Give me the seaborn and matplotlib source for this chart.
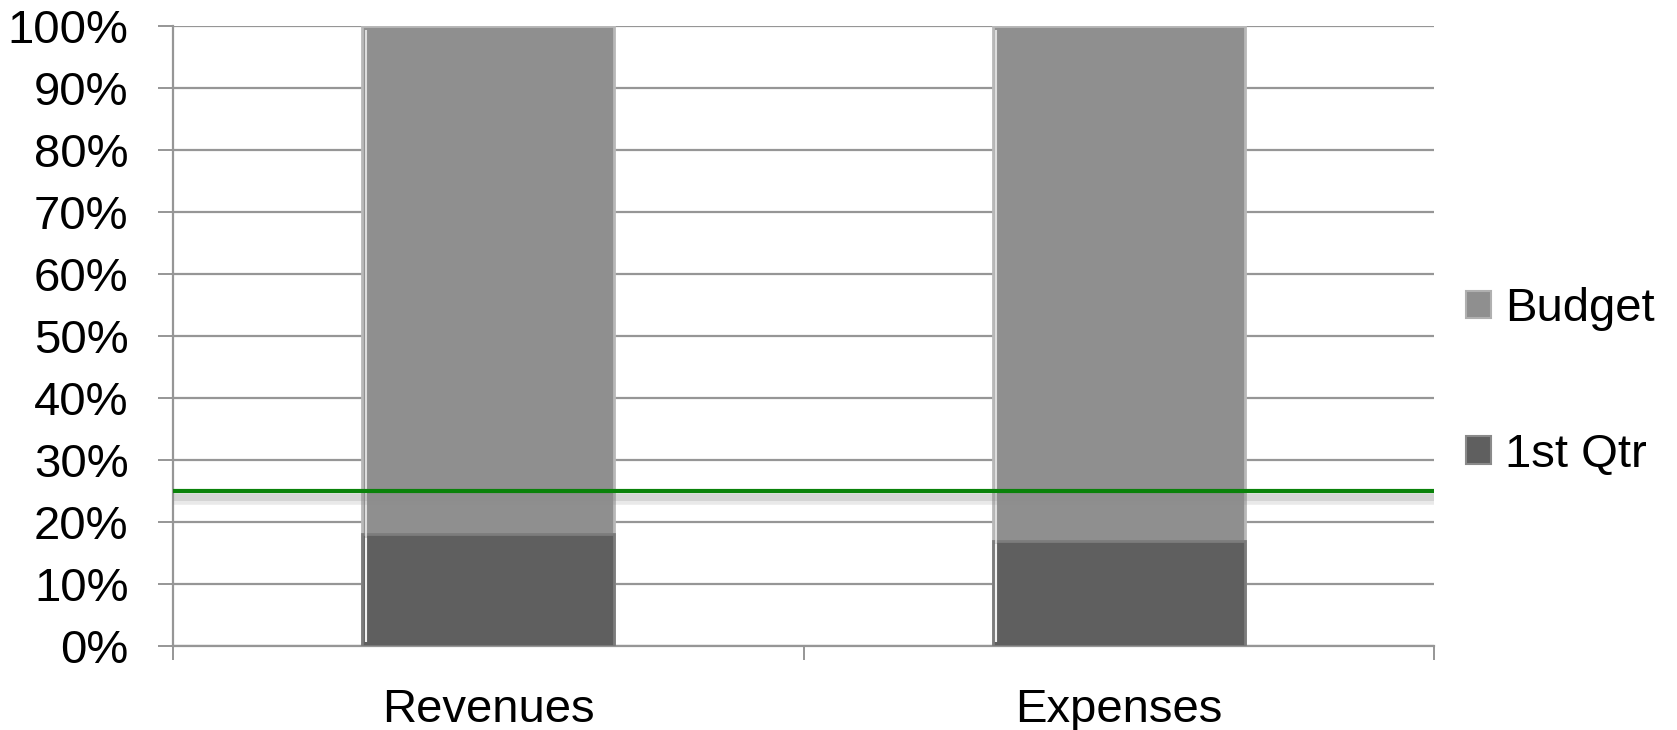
import matplotlib
matplotlib.use("Agg")
import matplotlib.pyplot as plt
import matplotlib.patheffects as pe
from matplotlib.patches import Patch
from matplotlib.ticker import FixedLocator, PercentFormatter
import pandas as pd
import seaborn as sns

categories = ["Revenues", "Expenses"]
first_qtr = [18, 17]          # share of annual budget used in Q1 (%)
budget_rest = [82, 83]        # remaining share of budget (%)
target = 25                   # expected share after one quarter (%)
y_ticks = [0, 10, 20, 30, 40, 50, 60, 70, 80, 90, 100]

sns.set_theme(style="white")
plt.rcParams["font.family"] = ["Liberation Sans", "DejaVu Sans"]
plt.rcParams["text.color"] = "black"

df = pd.DataFrame({
    "category": categories,
    "first_qtr": first_qtr,
    "total": [q + b for q, b in zip(first_qtr, budget_rest)],
})

fig = plt.figure(figsize=(16.77, 7.30), dpi=100)
ax = fig.add_axes([173 / 1677, 84 / 730, (1434 - 173) / 1677, 620 / 730])

grid_c = "#969696"
budget_c = "#8f8f8f"
qtr_c = "#5f5f5f"
fs = 34

ax.set_axisbelow(True)
ax.yaxis.grid(True, color=grid_c, linewidth=1.6)

sns.barplot(data=df, x="category", y="total", color=budget_c, width=0.4,
            saturation=1, edgecolor="#b8b8b8", linewidth=2.0, ax=ax, zorder=2)
sns.barplot(data=df, x="category", y="first_qtr", color=qtr_c, width=0.4,
            saturation=1, edgecolor="#7c7c7c", linewidth=2.0, ax=ax, zorder=3)

# soft bevel highlight on the left edge of each bar segment
for p in ax.patches:
    x0, y0 = p.get_x(), p.get_y()
    w, h = p.get_width(), p.get_height()
    ax.plot([x0 + 0.006, x0 + 0.006], [y0 + 0.6, y0 + h - 0.6],
            color="white", alpha=0.7, linewidth=1.5, zorder=4,
            solid_capstyle="butt")

ax.axhline(target, color="#0a820a", linewidth=3.0, zorder=5,
           path_effects=[pe.SimpleLineShadow(offset=(0, -5), shadow_color="#8a8a8a", alpha=0.18, linewidth=9),
                         pe.SimpleLineShadow(offset=(0, -4), shadow_color="#8a8a8a", alpha=0.22, linewidth=5),
                         pe.Normal()])

ax.set_xlim(-0.5, 1.5)
ax.set_ylim(0, 100)
ax.yaxis.set_major_locator(FixedLocator(y_ticks))
ax.yaxis.set_major_formatter(PercentFormatter(decimals=0))

for s in ["top", "right"]:
    ax.spines[s].set_visible(False)
for s in ["left", "bottom"]:
    ax.spines[s].set_color(grid_c)
    ax.spines[s].set_linewidth(1.6)

ax.set_xlabel("")
ax.set_ylabel("")
ax.tick_params(axis="y", which="major", length=11, width=1.4, color=grid_c,
               pad=21, labelsize=fs, labelcolor="black", left=True)
ax.tick_params(axis="x", which="major", length=0, pad=30, labelsize=fs, labelcolor="black")
ax.xaxis.set_minor_locator(FixedLocator([-0.5, 0.5, 1.5]))
ax.tick_params(axis="x", which="minor", length=10, width=1.4, color=grid_c, bottom=True)

handles = [Patch(facecolor=budget_c, edgecolor="#b0b0b0", linewidth=1.5),
           Patch(facecolor=qtr_c, edgecolor="#8a8a8a", linewidth=1.5)]
fig.legend(handles, ["Budget", "1st Qtr"], loc="center left",
           bbox_to_anchor=(1466 / 1677, 1 - 382 / 730), frameon=False,
           fontsize=fs, labelcolor="black", handlelength=0.52, handleheight=0.52,
           handletextpad=0.3, labelspacing=2.15, borderaxespad=0, borderpad=0)

fig.savefig("out.png", dpi=100)
